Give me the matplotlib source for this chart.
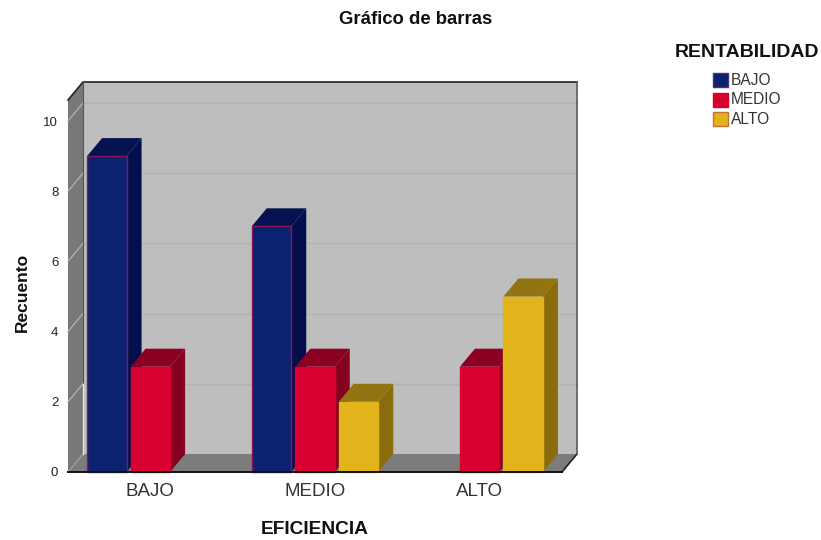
import matplotlib
matplotlib.use("Agg")
import matplotlib.pyplot as plt
from matplotlib.patches import Polygon, Rectangle

plt.rcParams['font.family'] = ['Liberation Sans', 'DejaVu Sans']

# Datos
eficiencia = ["BAJO", "MEDIO", "ALTO"]
rentabilidad = ["BAJO", "MEDIO", "ALTO"]
recuento_bajo = [9, 7, 0]
recuento_medio = [3, 3, 3]
recuento_alto = [0, 2, 5]
yticks = [0, 2, 4, 6, 8, 10]

W, H = 821, 540
fig = plt.figure(figsize=(W / 100, H / 100), dpi=100)
# plano frontal del grafico en pixeles: x 68-562, y 100-472
ax = fig.add_axes([68 / W, 1 - 472 / H, 494 / W, 372 / H])
ax.set_xlim(-0.5, 2.5)
ax.set_ylim(0, 372 / 35.1)
ymax = ax.get_ylim()[1]
for s in ax.spines.values():
    s.set_visible(False)

# profundidad 3D
dx = 15 / (494 / 3)
dy = 18 / 35.1
x0, x1 = -0.5, 2.5


def poly(pts, color, z, edge="none", lw=0):
    ax.add_patch(Polygon(pts, closed=True, facecolor=color, edgecolor=edge,
                         linewidth=lw, zorder=z, clip_on=False))


# paredes
poly([(x0 + dx, dy), (x1 + dx, dy), (x1 + dx, ymax + dy), (x0 + dx, ymax + dy)], "#bebebe", 1)
poly([(x0, 0), (x0 + dx, dy), (x0 + dx, ymax + dy), (x0, ymax)], "#787878", 1)
poly([(x0, 0), (x1, 0), (x1 + dx, dy), (x0 + dx, dy)], "#7c7c7c", 1)

# lineas de la cuadricula
for v in yticks[1:]:
    ax.plot([x0, x0 + dx], [v, v + dy], color="#b4b4b4", lw=0.9, zorder=2, clip_on=False)
    ax.plot([x0 + dx, x1 + dx], [v + dy, v + dy], color="#b2b2b2", lw=1, zorder=2, clip_on=False)
ax.plot([x0, x0 + dx], [0, dy], color="#a0a0a0", lw=0.9, zorder=2, clip_on=False)

# bordes del marco
ax.plot([x0, x0 + dx, x1 + dx], [ymax, ymax + dy, ymax + dy],
        color="#222222", lw=1.2, zorder=3, clip_on=False)
ax.plot([x1 + dx, x1], [dy, 0], color="#222222", lw=1.2, zorder=3, clip_on=False)
ax.plot([x0 + dx, x0 + dx], [2 + dy, ymax + dy], color="#555555", lw=0.8, zorder=3, clip_on=False)
ax.plot([x0 + dx, x0 + dx], [dy, 2 + dy], color="#e6e6e6", lw=1, zorder=3, clip_on=False)
ax.plot([x1 + dx, x1 + dx], [dy, ymax + dy], color="#5a5a5a", lw=1.2, zorder=3, clip_on=False)

# barras
ancho = 39.5 / (494 / 3)
paso = 43.5 / (494 / 3)
series = [
    (recuento_bajo, "#0a2270", "#06124f", "#030f4c", "#8c1458"),
    (recuento_medio, "#d8002f", "#8c0022", "#86001f", "#d8002f"),
    (recuento_alto, "#e2b41c", "#917510", "#8a6c0c", "#e2b41c"),
]
z = 5
for g in range(len(eficiencia)):
    for i, (vals, front, top, side, edge) in enumerate(series):
        v = vals[g]
        if v == 0:
            continue
        left = g + (i - 1) * paso - ancho / 2
        right = left + ancho
        poly([(right, 0), (right + dx, dy), (right + dx, v + dy), (right, v)], side, z)
        poly([(left, v), (right, v), (right + dx, v + dy), (left + dx, v + dy)], top, z)
        ax.bar(left + ancho / 2, v, ancho, color=front, edgecolor=edge, linewidth=1,
               zorder=z + 0.5, clip_on=False)
        z += 1

ax.plot([x0, x1], [0, 0], color="#111111", lw=1.4, zorder=40, clip_on=False)

ax.set_xticks(range(len(eficiencia)))
ax.set_xticklabels(eficiencia, fontsize=13.5, color="#333333")
ax.set_yticks(yticks)
ax.tick_params(axis="x", length=0, pad=8)
ax.tick_params(axis="y", length=0, pad=7, labelsize=9.5, labelcolor="#222222")

fig.text(416 / W, 1 - 19 / H, "Gráfico de barras", ha="center", va="center",
         fontsize=13.3, fontweight="bold", color="#111111")
fig.text(314.5 / W, 1 - 529.5 / H, "EFICIENCIA", ha="center", va="center",
         fontsize=13.8, fontweight="bold", color="#111111")
fig.text(22 / W, 1 - 292 / H, "Recuento", ha="center", va="center", rotation=90,
         fontsize=12.5, fontweight="bold", color="#111111")

# leyenda
fig.text(747 / W, 1 - 52.5 / H, "RENTABILIDAD", ha="center", va="center",
         fontsize=14, fontweight="bold", color="#111111")
colores_leyenda = [("#0a2270", "#5a2a70"), ("#d8002f", "#d8002f"), ("#e2b41c", "#c8703a")]
for k, nombre in enumerate(rentabilidad):
    yc = 80 + k * 19.5
    fig.add_artist(Rectangle((713 / W, 1 - (yc + 7) / H), 15 / W, 14 / H,
                             transform=fig.transFigure, facecolor=colores_leyenda[k][0],
                             edgecolor=colores_leyenda[k][1], linewidth=1))
    fig.text(731 / W, 1 - (yc + 0.5) / H, nombre, ha="left", va="center", fontsize=11.2, color="#333333")

fig.savefig("out.png", dpi=100)
